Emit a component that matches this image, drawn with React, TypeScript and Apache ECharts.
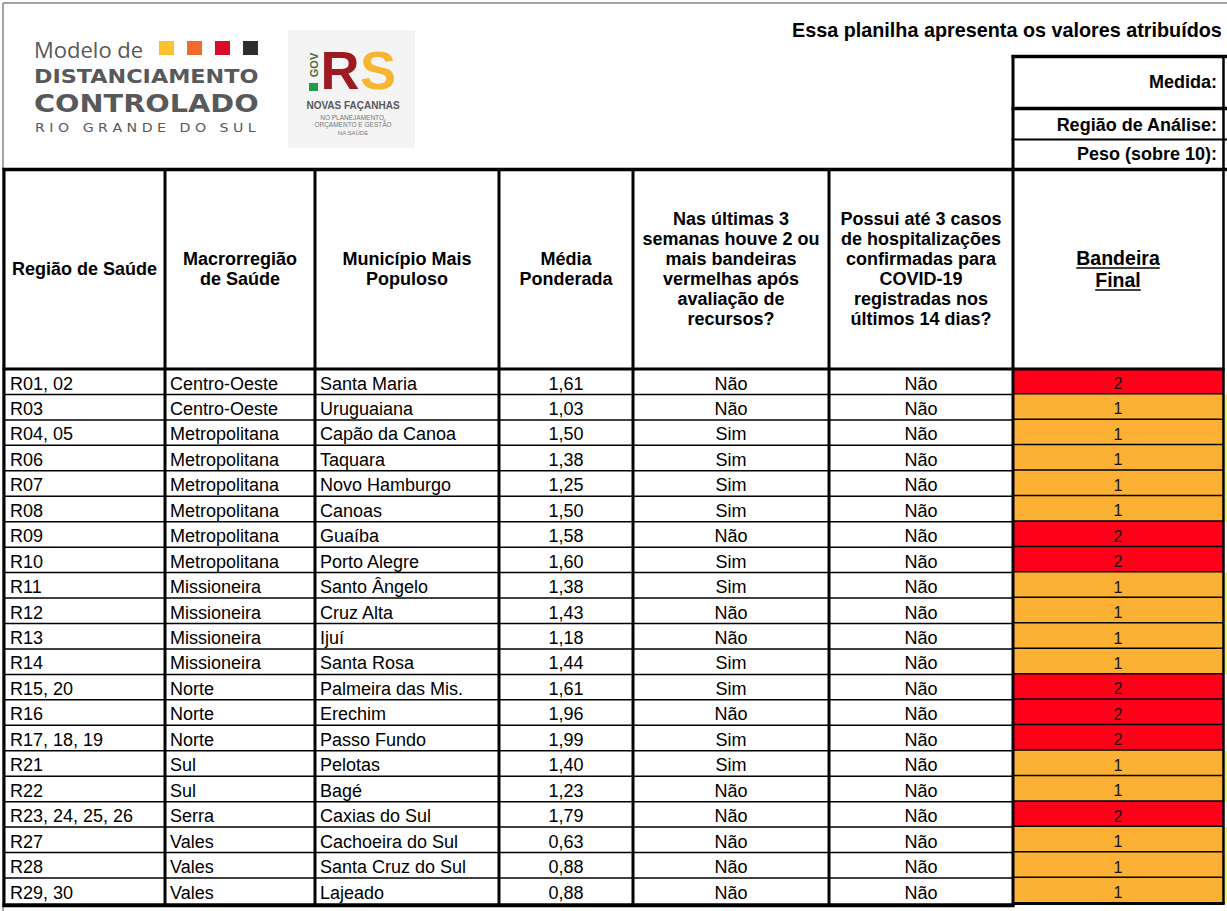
import React, { useEffect, useRef } from "react";
import * as echarts from "echarts";

// ---------- DATA ----------
const regions = ["R01, 02", "R03", "R04, 05", "R06", "R07", "R08", "R09", "R10", "R11", "R12", "R13", "R14", "R15, 20", "R16", "R17, 18, 19", "R21", "R22", "R23, 24, 25, 26", "R27", "R28", "R29, 30"];
const macroRegions = ["Centro-Oeste", "Centro-Oeste", "Metropolitana", "Metropolitana", "Metropolitana", "Metropolitana", "Metropolitana", "Metropolitana", "Missioneira", "Missioneira", "Missioneira", "Missioneira", "Norte", "Norte", "Norte", "Sul", "Sul", "Serra", "Vales", "Vales", "Vales"];
const cities = ["Santa Maria", "Uruguaiana", "Capão da Canoa", "Taquara", "Novo Hamburgo", "Canoas", "Guaíba", "Porto Alegre", "Santo Ângelo", "Cruz Alta", "Ijuí", "Santa Rosa", "Palmeira das Mis.", "Erechim", "Passo Fundo", "Pelotas", "Bagé", "Caxias do Sul", "Cachoeira do Sul", "Santa Cruz do Sul", "Lajeado"];
const weightedAverages = [1.61, 1.03, 1.50, 1.38, 1.25, 1.50, 1.58, 1.60, 1.38, 1.43, 1.18, 1.44, 1.61, 1.96, 1.99, 1.40, 1.23, 1.79, 0.63, 0.88, 0.88];
const redFlagsAnswers = ["Não", "Não", "Sim", "Sim", "Sim", "Sim", "Não", "Sim", "Sim", "Não", "Não", "Sim", "Sim", "Não", "Sim", "Sim", "Não", "Não", "Não", "Não", "Não"];
const hospitalAnswers = ["Não", "Não", "Não", "Não", "Não", "Não", "Não", "Não", "Não", "Não", "Não", "Não", "Não", "Não", "Não", "Não", "Não", "Não", "Não", "Não", "Não"];
const finalFlags = [2, 1, 1, 1, 1, 1, 2, 2, 1, 1, 1, 1, 2, 2, 2, 1, 1, 2, 1, 1, 1];

const headerLabels = [
  "Região de Saúde",
  "Macrorregião\nde Saúde",
  "Município Mais\nPopuloso",
  "Média\nPonderada",
  "Nas últimas 3\nsemanas houve 2 ou\nmais bandeiras\nvermelhas após\navaliação de\nrecursos?",
  "Possui até 3 casos\nde hospitalizações\nconfirmadas para\nCOVID-19\nregistradas nos\núltimos 14 dias?",
  "Bandeira\nFinal",
];
const titleText = "Essa planilha apresenta os valores atribuídos";
const infoLabels = ["Medida:", "Região de Análise:", "Peso (sobre 10):"];

// ---------- LAYOUT / STYLE ----------
const W = 1227;
const H = 911;
const COL_EDGES = [4, 165, 315, 499, 633, 829, 1013, 1223];
const BODY_TOP = 369;
const ROW_H = 25.45;
const FONT = '"Liberation Sans", Arial, Helvetica, sans-serif';
const FLAG_COLORS: Record<number, string> = { 1: "#FCB034", 2: "#FF0019" };

function measure(text: string, font: string): number {
  const c = document.createElement("canvas").getContext("2d");
  if (!c) return text.length * 9;
  c.font = font;
  return c.measureText(text).width;
}

function txt(text: string, x: number, y: number, font: string, align: string, fill = "#000", extra: any = {}) {
  const { style: extraStyle, ...rest } = extra;
  return {
    type: "text",
    z: 50,
    x,
    y,
    ...rest,
    style: {
      text,
      x: 0,
      y: 0,
      font,
      fill,
      textAlign: align,
      textVerticalAlign: "middle",
      align,
      verticalAlign: "middle",
      ...(extraStyle || {}),
    },
  };
}

function ln(x1: number, y1: number, x2: number, y2: number, w: number, color = "#000") {
  return {
    type: "line",
    z: 100,
    shape: { x1, y1, x2, y2 },
    style: { stroke: color, lineWidth: w },
  };
}

export default function App() {
  const ref = useRef<HTMLDivElement>(null);

  useEffect(() => {
    if (!ref.current) return;
    const chart = echarts.init(ref.current, undefined, { renderer: "svg" });
    const n = regions.length;
    const bodyBottom = BODY_TOP + n * ROW_H;

    const graphics: any[] = [];
    // gray frame
    graphics.push(ln(3, 3, W, 3, 2, "#A3A3A3"));
    graphics.push(ln(3, 3, 3, H, 2, "#A3A3A3"));

    // logo: Modelo de Distanciamento Controlado
    graphics.push(txt("Modelo de", 34, 49, `400 22px "Open Sans", ${FONT}`, "left", "#58595B"));
    const sqColors = ["#FDC12E", "#F36B2C", "#DC0A2A", "#2D2D2D"];
    const sqX = [159, 187, 215, 243];
    sqColors.forEach((c, k) => graphics.push({ type: "rect", z: 50, shape: { x: sqX[k], y: 41, width: 15, height: 14 }, style: { fill: c } }));
    graphics.push(txt("DISTANCIAMENTO", 34, 76, `bold 20px "DejaVu Sans", ${FONT}`, "left", "#58595B", { scaleX: 1.115 }));
    graphics.push(txt("CONTROLADO", 34, 103, `bold 25px "DejaVu Sans", ${FONT}`, "left", "#58595B", { scaleX: 1.15 }));
    graphics.push(txt("R I O   G R A N D E   D O   S U L", 35, 127, `13px "DejaVu Sans", ${FONT}`, "left", "#58595B", { scaleX: 1.09 }));

    // logo: GOV RS
    graphics.push({ type: "rect", z: 40, shape: { x: 288, y: 30, width: 127, height: 118 }, style: { fill: "#F4F4F4" } });
    graphics.push({ type: "rect", z: 50, shape: { x: 309, y: 83, width: 9, height: 8 }, style: { fill: "#1E9E48" } });
    graphics.push(txt("GOV", 313.5, 65, `bold 11px ${FONT}`, "center", "#4E7038", { rotation: Math.PI / 2 }));
    graphics.push(txt("R", 340, 70, `bold 54px ${FONT}`, "center", "#9C1A20"));
    graphics.push(txt("S", 378, 70, `bold 54px ${FONT}`, "center", "#F6B533"));
    graphics.push(txt("NOVAS FAÇANHAS", 353, 105, `bold 10px ${FONT}`, "center", "#58595B"));
    graphics.push(txt("NO PLANEJAMENTO,", 353, 117, `6.5px ${FONT}`, "center", "#777"));
    graphics.push(txt("ORÇAMENTO E GESTÃO", 353, 124, `6.5px ${FONT}`, "center", "#777"));
    graphics.push(txt("NA SAÚDE", 353, 133, `6px ${FONT}`, "center", "#777"));

    // title and info box
    graphics.push(txt(titleText, 792, 30, `bold 19.8px ${FONT}`, "left"));
    const infoY = [82, 125, 154];
    infoLabels.forEach((t, k) => graphics.push(txt(t, 1217, infoY[k], `bold 18px ${FONT}`, "right")));
    graphics.push(ln(1011.5, 56.5, W, 56.5, 3.5));
    graphics.push(ln(1011.5, 108.5, W, 108.5, 3.5));
    graphics.push(ln(1011.5, 139.5, W, 139.5, 2));
    graphics.push(ln(1013, 55, 1013, 169, 3));
    graphics.push(ln(1223.5, 55, 1223.5, 169, 2.5));

    // header labels
    const hdrFont = `bold 18px ${FONT}`;
    headerLabels.forEach((t, k) => {
      const cx = (COL_EDGES[k] + COL_EDGES[k + 1]) / 2;
      if (k === 6) {
        const f = `bold 19.5px ${FONT}`;
        const lines = t.split("\n");
        const ys = [258, 280];
        lines.forEach((l, j) => {
          graphics.push(txt(l, cx, ys[j], f, "center"));
          const w = measure(l, f);
          graphics.push({ ...ln(cx - w / 2, ys[j] + 10, cx + w / 2, ys[j] + 10, 1.6), z: 50 });
        });
      } else {
        graphics.push(txt(t, cx, 269, hdrFont, "center", "#000", { style: { lineHeight: 20 } }));
      }
    });

    // table borders
    graphics.push(ln(2.5, 169.5, W, 169.5, 3.5));
    graphics.push(ln(2.5, BODY_TOP, 1224.5, BODY_TOP, 3));
    COL_EDGES.forEach((x, k) => {
      const bottom = k === 7 ? bodyBottom + 1 : bodyBottom + 3;
      graphics.push(ln(k === 7 ? x + 0.5 : x, 168, k === 7 ? x + 0.5 : x, bottom, k === 7 ? 2.5 : 3));
    });
    graphics.push(ln(2.5, bodyBottom + 1.8, 1014.5, bodyBottom + 1.8, 4));
    graphics.push(ln(1013, bodyBottom, 1224.5, bodyBottom, 3));

    const data = regions.map((r, i) => [0, i]);

    chart.setOption({
      animation: false,
      backgroundColor: "#fff",
      grid: { left: 0, right: 0, top: BODY_TOP, height: n * ROW_H, containLabel: false },
      xAxis: { type: "value", min: 0, max: W, show: false },
      yAxis: { type: "category", data: regions, inverse: true, show: false },
      graphic: { elements: graphics },
      series: [
        {
          type: "custom",
          z: 10,
          data,
          renderItem: (params: any, api: any) => {
            const i = api.value(1);
            const c = api.coord([0, i]);
            const h = api.size([0, 1])[1];
            const yc = c[1];
            const top = yc - h / 2;
            const bot = yc + h / 2;
            const X = (k: number) => api.coord([COL_EDGES[k], i])[0];
            const flag = finalFlags[i];
            const bodyFont = `18px ${FONT}`;
            const mk = (text: string, x: number, align: string, font = bodyFont, fill = "#000") => ({
              type: "text",
              style: { text, x, y: yc + 1.8, font, fill, textAlign: align, textVerticalAlign: "middle", align, verticalAlign: "middle" },
            });
            const children: any[] = [
              { type: "rect", shape: { x: X(6), y: top, width: X(7) - X(6), height: h }, style: { fill: FLAG_COLORS[flag] } },
            ];
            if (flag === 1) {
              children.push({ type: "rect", shape: { x: X(7) + 2, y: top, width: W - X(7) - 2, height: h }, style: { fill: "#FFF24A" } });
            }
            if (i < regions.length - 1) {
              children.push({ type: "line", shape: { x1: X(0), y1: bot, x2: X(6), y2: bot }, style: { stroke: "#000", lineWidth: 1.5 } });
              children.push({ type: "line", shape: { x1: X(6), y1: bot, x2: X(7), y2: bot }, style: { stroke: "#000", lineWidth: 3 } });
            }
            children.push(mk(regions[i], X(0) + 6, "left"));
            children.push(mk(macroRegions[i], X(1) + 5, "left"));
            children.push(mk(cities[i], X(2) + 5, "left"));
            children.push(mk(weightedAverages[i].toFixed(2).replace(".", ","), (X(3) + X(4)) / 2, "center"));
            children.push(mk(redFlagsAnswers[i], (X(4) + X(5)) / 2, "center"));
            children.push(mk(hospitalAnswers[i], (X(5) + X(6)) / 2, "center"));
            children.push(mk(String(flag), (X(6) + X(7)) / 2, "center", `16px ${FONT}`, "#111"));
            return { type: "group", children };
          },
        },
      ],
    });

    return () => chart.dispose();
  }, []);

  return <div ref={ref} style={{ position: "absolute", left: 0, top: 0, width: W, height: H }} />;
}
